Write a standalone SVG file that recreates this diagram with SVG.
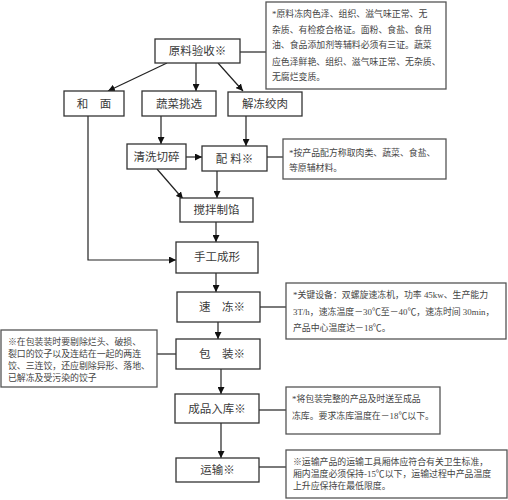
<svg xmlns="http://www.w3.org/2000/svg" width="508" height="500" viewBox="0 0 508 500">
<style>
.box{fill:#fff;stroke:#333;stroke-width:1.3}
.note{fill:#fff;stroke:#555;stroke-width:1.3}
.lbl{font-family:"Liberation Serif","Noto Sans CJK SC",serif;font-size:11.5px;fill:#3a3a3a;text-anchor:middle}
.nt{font-family:"Liberation Serif","Noto Sans CJK SC",serif;font-size:8.9px;fill:#444}
.ln{fill:none;stroke:#222;stroke-width:1.2}
.ar{fill:none;stroke:#222;stroke-width:1.2;marker-end:url(#ah)}
</style>
<defs>
<marker id="ah" viewBox="0 0 10 10" refX="10" refY="5" markerWidth="7" markerHeight="7" markerUnits="userSpaceOnUse" orient="auto">
<path d="M0,0 L10,5 L0,10 z" fill="#111"/>
</marker>
</defs>
<rect width="508" height="500" fill="#fff"/>
<g id="connectors">
<line class="ln" x1="240" y1="52" x2="266" y2="52"/>
<line class="ar" x1="167" y1="63" x2="108" y2="91"/>
<line class="ar" x1="196" y1="63" x2="196" y2="91"/>
<line class="ar" x1="218" y1="63" x2="243" y2="91"/>
<line class="ar" x1="161" y1="116" x2="161" y2="144"/>
<line class="ar" x1="186" y1="157" x2="202" y2="157"/>
<line class="ar" x1="246" y1="116" x2="246" y2="146"/>
<line class="ln" x1="267" y1="157" x2="283" y2="157"/>
<line class="ar" x1="157" y1="169" x2="183" y2="199"/>
<line class="ar" x1="217" y1="171" x2="217" y2="198"/>
<line class="ar" x1="216" y1="222" x2="216" y2="242"/>
<polyline class="ar" points="88,116 88,260 176,260"/>
<line class="ar" x1="216" y1="273" x2="216" y2="292"/>
<line class="ln" x1="260" y1="307" x2="286" y2="307"/>
<line class="ar" x1="218" y1="322" x2="218" y2="339"/>
<line class="ln" x1="157" y1="354" x2="176" y2="354"/>
<line class="ar" x1="221" y1="369" x2="221" y2="394"/>
<line class="ln" x1="259" y1="410" x2="286" y2="410"/>
<line class="ar" x1="221" y1="423" x2="221" y2="458"/>
<line class="ln" x1="259" y1="467" x2="286" y2="467"/>
</g>
<g id="n1"><rect class="box" x="155" y="39" width="85" height="24"/><text class="lbl" x="197.5" y="55">原料验收※</text></g>
<g id="note1"><rect class="note" x="266" y="2" width="180" height="87"/>
<text class="nt" x="272" y="17">*原料冻肉色泽、组织、滋气味正常、无</text>
<text class="nt" x="272" y="32.5">杂质、有检疫合格证。面粉、食盐、食用</text>
<text class="nt" x="272" y="48">油、食品添加剂等辅料必须有三证。蔬菜</text>
<text class="nt" x="272" y="64.5">应色泽鲜艳、组织、滋气味正常、无杂质、</text>
<text class="nt" x="272" y="80">无腐烂变质。</text></g>
<g id="n2"><rect class="box" x="64" y="91" width="60" height="25"/><text class="lbl" x="94" y="108">和　面</text></g>
<g id="n3"><rect class="box" x="142" y="91" width="74" height="25"/><text class="lbl" x="179" y="108">蔬菜挑选</text></g>
<g id="n4"><rect class="box" x="228" y="92" width="74" height="24"/><text class="lbl" x="265" y="108">解冻绞肉</text></g>
<g id="n5"><rect class="box" x="127" y="144" width="59" height="25"/><text class="lbl" x="156.5" y="161">清洗切碎</text></g>
<g id="n6"><rect class="box" x="202" y="146" width="65" height="25"/><text class="lbl" x="234.5" y="163">配 料※</text></g>
<g id="note2"><rect class="note" x="283" y="139" width="163" height="40"/>
<text class="nt" x="289" y="155.5">*按产品配方称取肉类、蔬菜、食盐、</text>
<text class="nt" x="289" y="170.5">等原辅材料。</text></g>
<g id="n7"><rect class="box" x="180" y="198" width="73" height="24"/><text class="lbl" x="216.5" y="214">搅拌制馅</text></g>
<g id="n8"><rect class="box" x="176" y="242" width="82" height="31"/><text class="lbl" x="217" y="261">手工成形</text></g>
<g id="n9"><rect class="box" x="177" y="292" width="83" height="30"/><text class="lbl" x="222" y="311">速　冻※</text></g>
<g id="note3"><rect class="note" x="286" y="283" width="220" height="56"/>
<text class="nt" x="293" y="297.5">*关键设备：双螺旋速冻机，功率 45kw、生产能力</text>
<text class="nt" x="293" y="315">3T/h，速冻温度－30℃至－40℃，速冻时间 30min，</text>
<text class="nt" x="293" y="330.5">产品中心温度达－18℃。</text></g>
<g id="n10"><rect class="box" x="176" y="339" width="84" height="30"/><text class="lbl" x="222" y="358">包　装※</text></g>
<g id="noteL"><rect class="note" x="1" y="330" width="156" height="57"/>
<text class="nt" x="8" y="344.5">※在包装装时要剔除烂头、破损、</text>
<text class="nt" x="8" y="357">裂口的饺子以及连结在一起的两连</text>
<text class="nt" x="8" y="369">饺、三连饺，还应剔除异形、落地、</text>
<text class="nt" x="8" y="381">已解冻及受污染的饺子</text></g>
<g id="n11"><rect class="box" x="175" y="394" width="84" height="29"/><text class="lbl" x="217" y="412.5">成品入库※</text></g>
<g id="note4"><rect class="note" x="286" y="387" width="154" height="47"/>
<text class="nt" x="292" y="401.5">*将包装完整的产品及时送至成品</text>
<text class="nt" x="292" y="418.5">冻库。要求冻库温度在－18℃以下。</text></g>
<g id="n12"><rect class="box" x="176" y="458" width="83" height="24"/><text class="lbl" x="217.5" y="474">运输※</text></g>
<g id="note5"><rect class="note" x="286" y="450" width="221" height="48"/>
<text class="nt" x="293" y="464.5">※运输产品的运输工具厢体应符合有关卫生标准，</text>
<text class="nt" x="293" y="476.5">厢内温度必须保持-15℃以下，运输过程中产品温度</text>
<text class="nt" x="293" y="488.5">上升应保持在最低限度。</text></g>
</svg>
